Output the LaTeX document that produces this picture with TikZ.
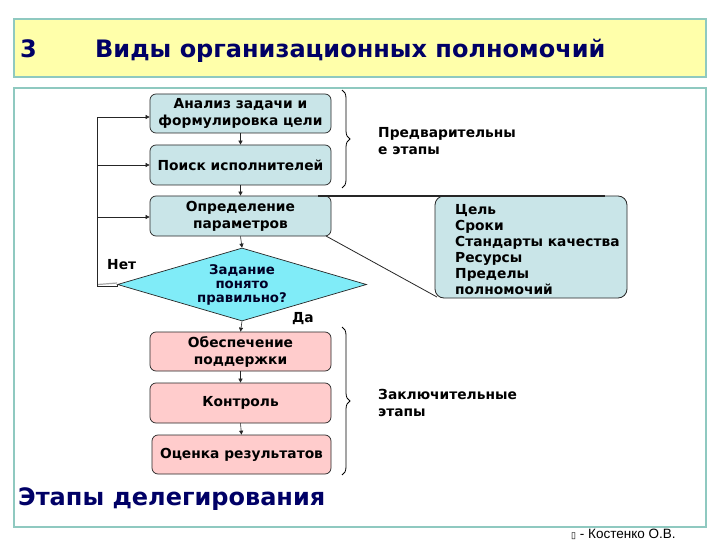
\documentclass[tikz,border=0pt]{standalone}
\usepackage{fontspec}
\setmainfont{DejaVu Sans}
\newfontfamily\footfont{Liberation Sans}
\usetikzlibrary{arrows.meta,shapes.geometric,decorations.pathreplacing}
\definecolor{titlefill}{HTML}{FFFFAA}
\definecolor{frameline}{HTML}{8FC9C0}
\definecolor{bluebox}{HTML}{C9E5E8}
\definecolor{diamfill}{HTML}{80ECF8}
\definecolor{pinkbox}{HTML}{FFCCCC}
\definecolor{navy}{HTML}{000066}
\begin{document}
\begin{tikzpicture}[x=1pt,y=-1pt,
  stagebox/.style={draw=black!85,line width=0.7pt,rounded corners=6pt,minimum width=181pt,minimum height=39pt,
    inner sep=0pt,align=center,font=\fontsize{13.8}{17}\selectfont\bfseries},
  bluestage/.style={stagebox,fill=bluebox},
  pinkstage/.style={stagebox,fill=pinkbox},
  flow/.style={draw=black!85,line width=0.6pt,-{Triangle[length=4pt,width=4pt]}},
  plain/.style={draw=black!85,line width=0.8pt},
  bracestyle/.style={draw=black,decorate,decoration={brace,amplitude=8pt},thick},
  lbl/.style={font=\fontsize{13.8}{17}\selectfont\bfseries,align=left,anchor=base west,inner sep=0pt}
]
\useasboundingbox (0,0) rectangle (720,540);
\fill[white] (0,0) rectangle (720,540);
% title bar
\node[draw=frameline,fill=titlefill,line width=1.2pt,minimum width=692pt,minimum height=58pt,inner sep=0pt] (titlebar) at (360,48) {};
\node[anchor=base west,inner sep=0pt,text=navy,font=\fontsize{24}{28}\selectfont\bfseries] (num) at (20,58) {3};
\node[anchor=base west,inner sep=0pt,text=navy,font=\fontsize{24}{28}\selectfont\bfseries] (title) at (95,58) {Виды организационных полномочий};
% main frame
\node[draw=frameline,fill=white,line width=1.2pt,minimum width=692pt,minimum height=439pt,inner sep=0pt] (frame) at (360,307.5) {};
% boxes
\node[bluestage] (b1) at (240.5,113.5) {Анализ задачи и\\формулировка цели};
\node[bluestage,minimum height=40pt] (b2) at (240.5,165) {Поиск исполнителей};
\node[bluestage,minimum height=40pt] (b3) at (240.5,216) {Определение\\параметров};
\node[diamond,aspect=3.41,draw=black!85,line width=0.7pt,fill=diamfill,minimum width=249pt,minimum height=73pt,inner sep=0pt] (d) at (242,284.5) {};
\node[align=center,inner sep=0pt,text=black!85!blue,font=\fontsize{13.3}{14}\selectfont\bfseries] (dtext) at (242,285) {Задание\\понято\\правильно?};
\node[pinkstage] (p1) at (240.5,351.5) {Обеспечение\\поддержки};
\node[pinkstage,minimum height=40pt] (p2) at (240.5,403) {Контроль};
\node[pinkstage,minimum width=179pt] (p3) at (241.5,454.5) {Оценка результатов};
% callout
\node[draw=black!85,line width=0.8pt,fill=bluebox,rounded corners=9pt,minimum width=192pt,minimum height=102pt,inner sep=0pt] (call) at (531,247) {};
\node[lbl,font=\fontsize{13.8}{16}\selectfont\bfseries] (calltext) at (455,294) {Цель\\Сроки\\Стандарты качества\\Ресурсы\\Пределы\\полномочий};
\coordinate (c1) at (605,196);
\coordinate (c2) at (437,297);
\coordinate (b3tr) at (318,196);
\coordinate (b3br) at (326,236);
\draw[plain,line width=1.1pt] (b3tr) -- (c1);
\draw[plain] (b3br) -- (c2);
% flow arrows
\draw[flow] (b1.south) -- (b2.north);
\draw[flow] (b2.south) -- (b3.north);
\draw[flow] (b3.south) -- (d.north);
\draw[flow] (d.south) -- (p1.north);
\draw[flow] (p1.south) -- (p2.north);
\draw[flow] (p2.south) -- (p3.north);
% feedback
\coordinate (fb) at (97,286);
\coordinate (f1) at (97,117);
\coordinate (f2) at (97,165);
\coordinate (f3) at (97,217);
\draw[black!35,line width=1.2pt] ([yshift=1.5pt]d.west) -- ([yshift=1.5pt,xshift=1pt]fb);
\draw[flow,-] (d.west) |- (fb) -- (f1);
\draw[flow] (f1) -- (f1 -| b1.west);
\draw[flow] (f2) -- (b2.west);
\draw[flow] (f3) -- (f3 -| b3.west);
\node[lbl] (no) at (107,269) {Нет};
\node[lbl] (yes) at (292,322) {Да};
% braces
\draw[bracestyle] (342,90) -- (342,188);
\draw[bracestyle] (342,327) -- (342,475);
\node[lbl] (pre) at (378,155) {Предварительны\\е этапы};
\node[lbl] (post) at (378,416) {Заключительные\\этапы};
% bottom
\node[anchor=base west,inner sep=0pt,text=navy,font=\fontsize{24}{28}\selectfont\bfseries] (stages) at (18,505) {Этапы делегирования};
\node[anchor=base west,inner sep=0pt,font=\footfont\fontsize{13.5}{14}\selectfont] (author) at (571,538) {\fontspec{DejaVu Sans}\fontsize{9}{10}\selectfont▯\footfont\fontsize{13.5}{14}\selectfont{} - Костенко О.В.};
\end{tikzpicture}
\end{document}
